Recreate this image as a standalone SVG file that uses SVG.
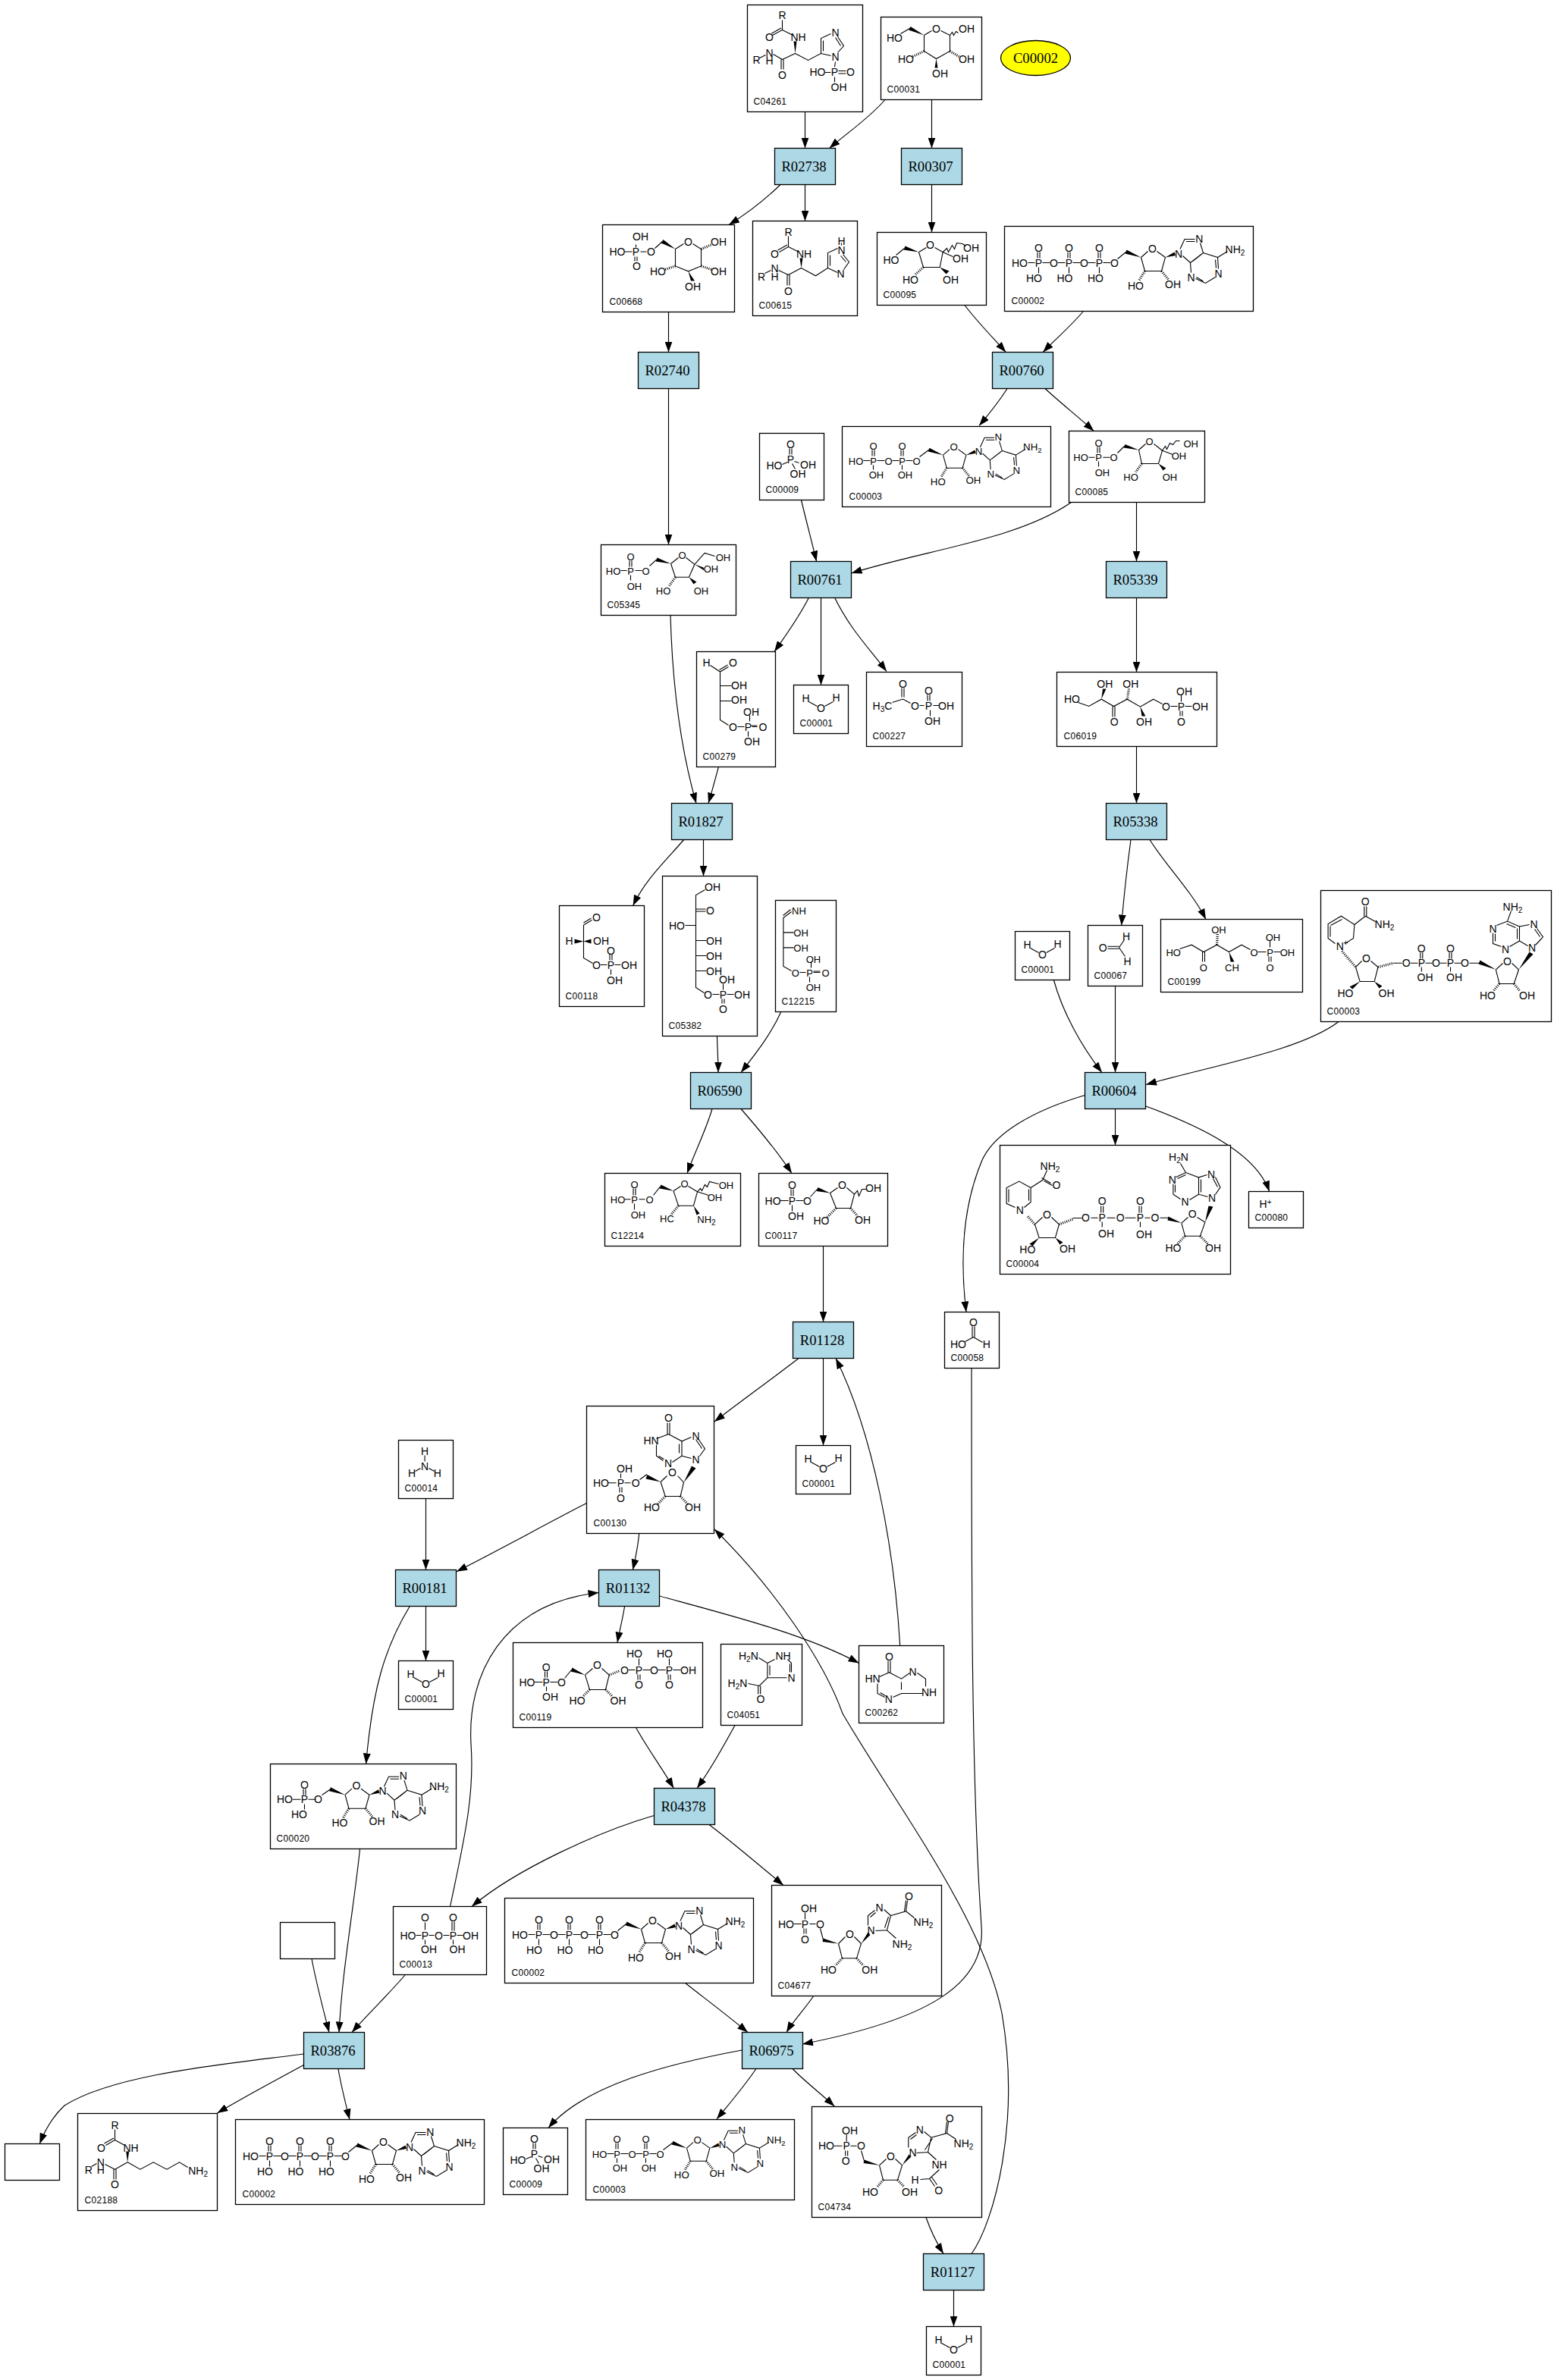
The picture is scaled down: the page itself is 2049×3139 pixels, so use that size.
<svg xmlns="http://www.w3.org/2000/svg" xmlns:xlink="http://www.w3.org/1999/xlink" width="2049" height="3139" viewBox="0 0 2049 3139">
<style>
text{font:14px "Liberation Sans",Arial,sans-serif;text-anchor:middle;fill:#000}
.s{font-size:10px}
.i{font-size:12px;text-anchor:start;letter-spacing:.3px}
.t{font:18.7px "Liberation Serif","Times New Roman",serif}
.n{fill:#fff;stroke:#000;stroke-width:1.3}
.r{fill:#add8e6;stroke:#000;stroke-width:1.3}
.b{fill:none;stroke:#000;stroke-width:1.1}
.h{fill:none;stroke:#000;stroke-width:3.2;stroke-dasharray:1 1.6}
.e{fill:none;stroke:#000;stroke-width:1.15;marker-end:url(#arr)}
.m13 text{font-size:13px}
.m13 .i{font-size:12px}
</style>
<defs>
<marker id="arr" markerUnits="userSpaceOnUse" markerWidth="14" markerHeight="10" viewBox="0 0 14 10" refX="14" refY="5" orient="auto"><path d="M0 0L14 5L0 10Z" fill="#000"/></marker>
<g id="ado">
<path class="b" d="M20 7L29 -1M41 -1L52 7L47 25H25L20 7M71.5 -4L77.5 -17H91M79.5 -14H91M98 -12L102 1L85 14L75 5M99 3.5L88 12M85 14L86 27M102 1L121 7L122 22M118 10L119 21M118 33L105 41L92 35M102 38.5L93 33M121 7L134 -1"/>
<polygon points="20,7 1,-3 -1,2"/><polygon points="52,7 64,0 65.5,4.5"/>
<path class="h" d="M25 25L17 38M47 25L56 36"/>
<text x="35" y="0">O</text><text x="13" y="49">HO</text><text x="62" y="47">OH</text><text x="69.5" y="7">N</text><text x="96.7" y="-13">N</text><text x="86" y="38">N</text><text x="122" y="33">N</text><text x="144" y="1">NH<tspan class="s" dy="3">2</tspan></text>
</g>
<g id="mATP">
<path class="b" d="M31 48H40M50 48H60M70 48H80M90 48H100M110 48H120M130 48H140M43.5 34V42M46.5 34V42M83.5 34V42M86.5 34V42M123.5 34V42M126.5 34V42M45 54V62M85 54V62M125 54V62M149 43L160 34"/>
<text x="20" y="53">HO</text><text x="45" y="53">P</text><text x="45" y="33">O</text><text x="39" y="73">HO</text><text x="65" y="53">O</text><text x="85" y="53">P</text><text x="85" y="33">O</text><text x="79.5" y="73">HO</text><text x="105" y="53">O</text><text x="125" y="53">P</text><text x="125" y="33">O</text><text x="120" y="73">HO</text><text x="145" y="53">O</text>
<use xlink:href="#ado" href="#ado" transform="translate(160 34)"/>
</g>
<g id="mADP" class="m13">
<path class="b" d="M28 45H37M46 45H56M66 45H75M84 45H93M39.5 31V39M42.5 31V39M77.5 31V39M80.5 31V39M41 51V57M79 51V57M102 40L114 31"/>
<text x="18" y="50">HO</text><text x="41" y="50">P</text><text x="41" y="30">O</text><text x="45" y="68">OH</text><text x="61" y="50">O</text><text x="79" y="50">P</text><text x="79" y="30">O</text><text x="83" y="68">OH</text><text x="98" y="50">O</text>
<use xlink:href="#ado" href="#ado" transform="translate(114 31) scale(.95)"/>
</g>
<g id="mPi">
<path class="b" d="M39.5 20V28M42.5 20V28M37 38L30 41M46 37L52 39M43 40L47 47"/>
<text x="41" y="19.5">O</text><text x="41" y="39">P</text><text x="19.5" y="47">HO</text><text x="64" y="46">OH</text><text x="50.5" y="58.7">OH</text>
</g>
<g id="mW">
<path class="b" d="M20 22L31 28M41 28L52 22"/>
<text x="16" y="22">H</text><text x="56" y="21">H</text><text x="36" y="35">O</text>
</g>
</defs>
<rect width="2049" height="3139" fill="#fff"/>
<g id="diagram" transform="translate(1 0)">
<g id="connectors">
<path class="e" d="M1060.5 147.5V195.5"/>
<path class="e" d="M1166 131.5C1145 156 1115 176 1092.6 195.5"/>
<path class="e" d="M1227.5 131.5V195.5"/>
<path class="e" d="M1028 243.5C1006 265 985 281 960 296.5"/>
<path class="e" d="M1060.5 243.5V291.5"/>
<path class="e" d="M1227.5 243.5V306.5"/>
<path class="e" d="M1271 402.5C1288 425 1308 445 1325.3 464.5"/>
<path class="e" d="M1427.5 410.5C1410 431 1392 446 1374.2 464.5"/>
<path class="e" d="M880.5 411.5V464.5"/>
<path class="e" d="M880.5 512.5V718.5"/>
<path class="e" d="M1327 512.5C1316 530 1303 546 1290 561.5"/>
<path class="e" d="M1377 512.5C1398 532 1420 549 1441.3 568.5"/>
<path class="e" d="M1055.5 659.5C1062 687 1069 713 1075.6 740.5"/>
<path class="e" d="M1411.5 662.5C1340 712 1220 725 1121.6 756"/>
<path class="e" d="M1497.5 662.5V740.5"/>
<path class="e" d="M1065.3 788.5C1052 815 1037 835 1020 859.5"/>
<path class="e" d="M1081.5 788.5V903.5"/>
<path class="e" d="M1099.7 788.5C1120 830 1145 855 1168 885.5"/>
<path class="e" d="M1497.5 788.5V886.5"/>
<path class="e" d="M1497.5 984.5V1059.5"/>
<path class="e" d="M883 811.5C886 920 900 1000 917 1059.5"/>
<path class="e" d="M946.4 1011.5C942 1028 938 1043 933 1059.5"/>
<path class="e" d="M900.7 1107.5C875 1137 850 1160 833.6 1194.5"/>
<path class="e" d="M926.5 1107.5V1155.5"/>
<path class="e" d="M1490 1107.5C1485 1145 1481 1180 1477.7 1220.5"/>
<path class="e" d="M1515 1107.5C1535 1140 1570 1175 1589 1212.5"/>
<path class="e" d="M1388.4 1292.5C1400 1335 1425 1380 1452 1414.5"/>
<path class="e" d="M1469.5 1300.5V1414.5"/>
<path class="e" d="M1764 1347.5C1715 1385 1600 1405 1510 1430.5"/>
<path class="e" d="M1429.5 1444.5C1360 1465 1310 1495 1294 1530C1275 1575 1262 1640 1273 1730.5"/>
<path class="e" d="M1469.5 1462.5V1510.5"/>
<path class="e" d="M1510 1459C1580 1485 1655 1520 1672.7 1571.5"/>
<path class="e" d="M944.5 1367C945 1385 946 1400 946 1414.5"/>
<path class="e" d="M1028.6 1335C1015 1365 995 1390 976 1414.5"/>
<path class="e" d="M938 1462.5C930 1490 915 1520 905 1547.5"/>
<path class="e" d="M976 1462.5C1000 1490 1025 1520 1043 1547.5"/>
<path class="e" d="M1084.5 1643.5V1743.5"/>
<path class="e" d="M1052 1791.5C1015 1820 980 1845 941 1875"/>
<path class="e" d="M1084.5 1791.5V1906.5"/>
<path class="e" d="M1185.7 2170.5C1178 2040 1150 1890 1101 1791.5"/>
<path class="e" d="M560.5 1976.5V2070.5"/>
<path class="e" d="M772.5 1982.5C715 2012 660 2043 601 2072.7"/>
<path class="e" d="M841.7 2022.5C840 2040 837 2055 833.3 2070.5"/>
<path class="e" d="M560.5 2118.5V2190.5"/>
<path class="e" d="M539.3 2118.5C505 2175 490 2230 481.6 2326.5"/>
<path class="e" d="M822.6 2118.5C820 2135 816 2150 813 2166.5"/>
<path class="e" d="M868.5 2105C960 2130 1060 2155 1131.5 2193.5"/>
<path class="e" d="M837.5 2278.5C852 2305 872 2332 887.3 2358.5"/>
<path class="e" d="M968 2275.5C952 2305 935 2335 918 2358.5"/>
<path class="e" d="M861.5 2394.5C790 2415 680 2465 621 2514.5"/>
<path class="e" d="M934 2406.5C965 2430 1000 2460 1032 2486.5"/>
<path class="e" d="M592.6 2514.5C610 2430 625 2370 620 2300C615 2210 660 2115 788.5 2100.5"/>
<path class="e" d="M473.6 2438.5C465 2520 450 2600 446 2680.5"/>
<path class="e" d="M410 2583.5C416 2615 425 2650 433 2680.5"/>
<path class="e" d="M533.3 2604.5C510 2632 485 2655 463 2680.5"/>
<path class="e" d="M902.6 2615.5C930 2637 958 2658 985 2680.5"/>
<path class="e" d="M1071.7 2632.5C1060 2650 1045 2665 1036 2680.5"/>
<path class="e" d="M1280 1804.5C1280 2100 1280 2350 1293 2540C1300 2620 1215 2665 1057 2696"/>
<path class="e" d="M399.5 2709C300 2722 150 2735 84 2777C70 2790 60 2805 51.3 2827.5"/>
<path class="e" d="M399.5 2723.5C360 2745 322 2765 285.4 2787"/>
<path class="e" d="M444.9 2728.5C449 2752 454 2772 460 2795.5"/>
<path class="e" d="M977 2704C880 2722 770 2750 722 2806.5"/>
<path class="e" d="M996 2728.5C980 2752 962 2773 944 2795"/>
<path class="e" d="M1044 2728.5C1060 2745 1080 2760 1099.3 2778"/>
<path class="e" d="M1220 2924.5C1226 2942 1234 2958 1243 2972.5"/>
<path class="e" d="M1256.5 3020.5V3068.5"/>
<path class="e" d="M1280 2972.5C1310 2930 1345 2800 1320 2655C1295 2530 1180 2380 1110 2260C1085 2190 1020 2095 941 2017"/>
</g>

<g id="C04261" transform="translate(984.5 6.5)"><rect class="n" width="152" height="141"/>
<path class="b" d="M46 20V33L33 40M44.5 30.5L32 37.5M46 33L60 40M63 64L46 72M44.5 72V85M47.5 72V85M46 72L34 65M63 64L80 73L97 64V44L110 38M100 61V47M119 42L127 54L119 63M116 43L123 54M110 67L97 64M116 75L115 82M102 89H110M120 87H130M120 90.5H130M115 95V102M16 70L24 66"/>
<polygon points="63,64 61,48 65,48"/>
<text x="46" y="18.7">R</text><text x="29" y="47">O</text><text x="67" y="47.7">NH</text><text x="46" y="97">O</text><text x="29" y="68">N</text><text x="29" y="78">H</text><text x="12" y="77">R</text><text x="116" y="41.3">N</text><text x="116" y="73.7">N</text><text x="115" y="93.7">P</text><text x="92.4" y="93.7">HO</text><text x="136" y="93.7">O</text><text x="120.5" y="113.7">OH</text>
<text class="i" x="8" y="131">C04261</text></g>

<g id="C00031" transform="translate(1160.5 22.5)"><rect class="n" width="133" height="109"/>
<path class="b" d="M26 22L38 15M57 24L67 18M79 18L91 24V45L73 55L57 45V24M91 24L94 20L96 24L99 19L102 21"/>
<polygon points="57,24 39,12.5 36.5,17"/><polygon points="73,55 71,67 75,67"/>
<path class="h" d="M57 45L42 52M91 45L103 52"/>
<text x="18" y="32.7">HO</text><text x="73" y="20">O</text><text x="113" y="20">OH</text><text x="33" y="60">HO</text><text x="113" y="60">OH</text><text x="78" y="79.7">OH</text>
<text class="i" x="8" y="99">C00031</text></g>

<g id="C00002_cpd"><ellipse cx="1364.5" cy="76.5" rx="46" ry="23" fill="#ff0" stroke="#000" stroke-width="1.3"/><text class="t" x="1364.5" y="82.5">C00002</text></g>

<g id="R02738"><rect class="r" x="1020.5" y="195.5" width="80" height="48"/><text class="t" x="1059" y="225.5">R02738</text></g>
<g id="R00307"><rect class="r" x="1187.5" y="195.5" width="80" height="48"/><text class="t" x="1226" y="225.5">R00307</text></g>

<g id="C00668" transform="translate(793.5 296.5)"><rect class="n" width="174" height="115"/>
<path class="b" d="M29 35.5H39M44 26V30M42.5 42V48M45.5 42V48M50 35.5H58M69 31L79 22M96 32L107 25M119 25L130 32V54.4L113 61.3L96 54.4V32"/>
<polygon points="96,32 80,19.5 77,24"/><polygon points="113,61.3 116.5,74 121.5,74"/>
<path class="h" d="M130 32L144 26M96 54.4L82 59M130 54.4L144 59"/>
<text x="50" y="20">OH</text><text x="19.5" y="40.5">HO</text><text x="44" y="40.5">P</text><text x="45" y="59.4">O</text><text x="64" y="40.5">O</text><text x="113" y="27.4">O</text><text x="153" y="27.4">OH</text><text x="73" y="66.3">HO</text><text x="153" y="66.3">OH</text><text x="119" y="86">OH</text>
<text class="i" x="9" y="105">C00668</text></g>

<g id="C00615" transform="translate(991.5 291.5)"><rect class="n" width="138" height="125"/>
<path class="b" d="M47 20V34L35 41M45.5 31.5L33 38.5M47 34L61 41M64 62L47 71M45.5 71V85M48.5 71V85M47 71L34 65M64 62L83 72.3L99 62V42L112 36M102 59V45M119 44L127 54L120 64M116 46L123 54M112 68L99 62M117 29V32M16 69L24 65"/>
<polygon points="64,62 62,49 66,49"/>
<text x="47" y="19.5">R</text><text x="29" y="48.7">O</text><text x="67.5" y="48.7">NH</text><text x="47" y="97">O</text><text x="29" y="67.7">N</text><text x="29" y="78">H</text><text x="11.5" y="78">R</text><text x="117" y="43">N</text><text x="117" y="31.5">H</text><text x="116" y="74.5">N</text>
<text class="i" x="8" y="115">C00615</text></g>

<g id="C00095" transform="translate(1155.5 306.5)"><rect class="n" width="144" height="96"/>
<path class="b" d="M25 30L35.6 21.3M55 26L65 20M76 20L86.7 26L82.7 46H61L55 26M86.7 26L92 21L94 26L99 17L102 22L105 14L112.5 15L117 18M86.7 26L100 32"/>
<polygon points="55,26 37,18 35,23"/><polygon points="82.7,46 91,55 95,51"/>
<path class="h" d="M61 46L50 56"/>
<text x="18.4" y="41.8">HO</text><text x="70" y="21">O</text><text x="124" y="25">OH</text><text x="110" y="39">OH</text><text x="44" y="67">HO</text><text x="97" y="67">OH</text>
<text class="i" x="8" y="86">C00095</text></g>

<g id="C00002_a" transform="translate(1323.5 298.5)"><rect class="n" width="328" height="112"/><use xlink:href="#mATP" href="#mATP"/><text class="i" x="9" y="102">C00002</text></g>
<g id="R02740"><rect class="r" x="840.5" y="464.5" width="80" height="48"/><text class="t" x="879" y="494.5">R02740</text></g>
<g id="R00760"><rect class="r" x="1307.5" y="464.5" width="80" height="48"/><text class="t" x="1346" y="494.5">R00760</text></g>
<g id="C00003_a" transform="translate(1109.5 562.5)"><rect class="n" width="275" height="106"/><use xlink:href="#mADP" href="#mADP"/><text class="i" x="9" y="96">C00003</text></g>

<g id="C00085" class="m13" transform="translate(1408.5 568.5)"><rect class="n" width="179" height="94"/>
<path class="b" d="M26 34.8H34M37.5 21V29M40.5 21V29M39 40V47M45 34.8H54M64 29L73 20M92 25L101 17M112 17L123 25.8L118 43H96L92 25M123 25.8L127 20L129 24L133 16L137 18L141 13L146 13M123 25.8L137 31"/>
<polygon points="92,25 74,17.5 72,22"/><polygon points="118,43 124,52 128,49"/>
<path class="h" d="M96 43L88 54"/>
<text x="39" y="20">O</text><text x="15.5" y="39.8">HO</text><text x="39" y="39.8">P</text><text x="44" y="59.4">OH</text><text x="59" y="39.8">O</text><text x="106" y="18">O</text><text x="160.7" y="21.5">OH</text><text x="145" y="37.7">OH</text><text x="81.5" y="65">HO</text><text x="133" y="65">OH</text>
<text class="i" x="8" y="84">C00085</text></g>

<g id="C00009_a" transform="translate(1000.5 571.5)"><rect class="n" width="85" height="88"/><use xlink:href="#mPi" href="#mPi"/><text class="i" x="8" y="78">C00009</text></g>

<g id="C05345" class="m13" transform="translate(791.5 718.5)"><rect class="n" width="178" height="93"/>
<path class="b" d="M26 34H34M37.5 21V29M40.5 21V29M39 40V47M45 34H54M64 28L73 19.6M92 25L102 17M112 17L123.4 25.8L116 42.7H98L92 25M123.4 25.8L136.6 11L150 15"/>
<polygon points="92,25 74,17 72,22"/><polygon points="116,42.7 122,52 126,49"/><polygon points="123.4,25.8 135,30 136,34"/>
<path class="h" d="M98 42.7L90 54"/>
<text x="39" y="20">O</text><text x="16" y="39">HO</text><text x="39" y="39">P</text><text x="44" y="59">OH</text><text x="59" y="39">O</text><text x="107" y="18.4">O</text><text x="161" y="21">OH</text><text x="145" y="36.7">OH</text><text x="82" y="65">HO</text><text x="132" y="65">OH</text>
<text class="i" x="8" y="83">C05345</text></g>

<g id="R00761"><rect class="r" x="1041.5" y="740.5" width="80" height="48"/><text class="t" x="1080" y="770.5">R00761</text></g>
<g id="R05339"><rect class="r" x="1457.5" y="740.5" width="80" height="48"/><text class="t" x="1496" y="770.5">R05339</text></g>

<g id="C00279" transform="translate(917.5 859.5)"><rect class="n" width="104" height="152"/>
<path class="b" d="M18 18L31 26.5L42 20M30 24L41 17.5M31 26.5V90L42 97M31 45H46M31 65H46M54 99H63M73 99H80M70 84V92M68 105V112M72 97.5H80"/>
<text x="13" y="19.5">H</text><text x="48" y="19.5">O</text><text x="56" y="49">OH</text><text x="56" y="68.5">OH</text><text x="72" y="84">OH</text><text x="48" y="104">O</text><text x="68" y="104">P</text><text x="87.5" y="104">O</text><text x="73" y="123">OH</text>
<text class="i" x="8" y="142">C00279</text></g>

<g id="C00001_a" transform="translate(1045.5 903.5)"><rect class="n" width="72" height="64"/><use xlink:href="#mW" href="#mW"/><text class="i" x="8" y="54">C00001</text></g>

<g id="C00227" transform="translate(1141.5 886.5)"><rect class="n" width="126" height="98"/>
<path class="b" d="M34 40L48 35.5L58 41M46.5 21V33M49.5 21V33M70 44H76M80.5 30V38M83.5 30V38M88 44H96M84 50V58"/>
<text x="21" y="49">H<tspan class="s" dy="3">3</tspan><tspan dy="-3">C</tspan></text><text x="48" y="20">O</text><text x="64" y="49">O</text><text x="82" y="49">P</text><text x="82" y="29">O</text><text x="105" y="49">OH</text><text x="87" y="69.5">OH</text>
<text class="i" x="8" y="88">C00227</text></g>

<g id="C06019" transform="translate(1392.5 886.5)"><rect class="n" width="211" height="98"/>
<path class="b" d="M28 40L42.3 45L58.7 35.7L75 45L92.7 35.7L110 45.7L127.3 35.7L139 42M73.5 45V59M76.5 45V59M150 45H159M169 45H178M164 30V39M162.5 51V58M165.5 51V58"/>
<polygon points="58.7,35.7 60.5,22 65,22"/><polygon points="110,45.7 112,58 117,58"/>
<path class="h" d="M92.7 35.7L95 22"/>
<text x="20" y="40.7">HO</text><text x="63.3" y="20">OH</text><text x="75.7" y="70">O</text><text x="97.3" y="20">OH</text><text x="115" y="70">OH</text><text x="144" y="50">O</text><text x="164" y="50">P</text><text x="168" y="30">OH</text><text x="189" y="50">OH</text><text x="164" y="70">O</text>
<text class="i" x="9" y="88">C06019</text></g>

<g id="R01827"><rect class="r" x="884.5" y="1059.5" width="80" height="48"/><text class="t" x="923" y="1089.5">R01827</text></g>
<g id="R05338"><rect class="r" x="1457.5" y="1059.5" width="80" height="48"/><text class="t" x="1496" y="1089.5">R05338</text></g>

<g id="C00118" transform="translate(736.5 1194.5)"><rect class="n" width="112" height="133"/>
<path class="b" d="M32 25.5L43 19M32 22.5L42 16.5M32 25.5V69L44 76M54 78H63M73 78H81M66.5 64V72M69.5 64V72M68 84V91"/>
<polygon points="32,47 20,44 20,50"/><polygon points="32,47 42,44 42,50"/>
<text x="49" y="20">O</text><text x="13" y="51">H</text><text x="55" y="51">OH</text><text x="49" y="83">O</text><text x="68" y="83">P</text><text x="68" y="64">O</text><text x="92" y="83">OH</text><text x="73" y="103">OH</text>
<text class="i" x="8" y="123">C00118</text></g>

<g id="C05382" transform="translate(872.5 1155.5)"><rect class="n" width="125" height="211"/>
<path class="b" d="M56 18L44 25V147L55 154M44 43.5H57M44 46.5H57M30 65H44M44 85H58M44 105H58M44 125H58M66 156H75M85 156H94M80 142V150M78.5 162V168M81.5 162V168"/>
<text x="66" y="19.5">OH</text><text x="63" y="50">O</text><text x="19" y="70">HO</text><text x="68" y="90">OH</text><text x="68" y="110">OH</text><text x="68" y="130">OH</text><text x="85" y="141">OH</text><text x="60" y="161">O</text><text x="80" y="161">P</text><text x="105" y="161">OH</text><text x="80" y="180.5">O</text>
<text class="i" x="8" y="201">C05382</text></g>

<g id="C12215" class="m13" transform="translate(1021.5 1187.5)"><rect class="n" width="80" height="147"/>
<path class="b" d="M21 15L10.4 23V87L21 93M20 12L10 20M10.4 42.4H24M10.4 62.4H24M32 95H40M50 95H59M47 81V89M45 101V108M50 93.5H59"/>
<text x="31" y="18.4">NH</text><text x="33.6" y="47.4">OH</text><text x="33.6" y="67.4">OH</text><text x="50" y="82">OH</text><text x="26.4" y="100">O</text><text x="45" y="100">P</text><text x="66" y="100">O</text><text x="50" y="119">OH</text>
<text class="i" x="8" y="137">C12215</text></g>

<g id="C00001_b" transform="translate(1337.5 1228.5)"><rect class="n" width="72" height="64"/><use xlink:href="#mW" href="#mW"/><text class="i" x="8" y="54">C00001</text></g>

<g id="C00067" transform="translate(1433.5 1220.5)"><rect class="n" width="72" height="80"/>
<path class="b" d="M26 27.8H41M26 30.8H41M41 29.3L48 19M41 29.3L49 41"/>
<text x="50.6" y="19.8">H</text><text x="19.6" y="34.3">O</text><text x="52" y="52.2">H</text>
<text class="i" x="8" y="70">C00067</text></g>

<g id="C00199" class="m13" transform="translate(1529.5 1212.5)"><rect class="n" width="187" height="96"/>
<path class="b" d="M25 39L40.6 33.7L56.4 43L74 33.7L90 43L106.5 33.7L118 40M55 43V56M58 43V56M128 43H139M149 43H158M144 28V37M142.5 49V56M145.5 49V56"/>
<polygon points="90,43 92,56 97,56"/>
<path class="h" d="M74 33.7L75 19"/>
<text x="16.7" y="48">HO</text><text x="56.4" y="68">O</text><text x="76.4" y="18">OH</text><text x="94" y="68">CH</text><text x="123" y="48">O</text><text x="144" y="48">P</text><text x="148" y="28.4">OH</text><text x="167" y="48">OH</text><text x="144" y="68">O</text>
<text class="i" x="9" y="86">C00199</text></g>

<g id="C00003_b" transform="translate(1740.5 1174.5)"><rect class="n" width="304" height="173"/>
<path class="b" d="M57.3 21V33.7M60.3 21V33.7M58.8 33.7L44.4 45M58.8 33.7L72 41M44.4 45L26.8 33.7L9.6 44V63L19 70M44.4 45L43 63L32 70M28 38L13 46M12.5 47V61M46 101L54 93M66 93L75.5 101L70.7 120H51.6L46 101M95 95.7H107M118 95.7H128M138 95.7H147M157 95.7H166M176 95.7H185M131.3 82V90M134.3 82V90M169.5 82V90M172.5 82V90M132.8 101V107M171 101V107M196 95.7H210M230.8 104.3L240 96M252 96L261 104.3L254.7 123H235.5L230.8 104.3M273 73L262 66.5V47.5L275 45M259 64V50M285 50L293 61.3L283 72M282 51L289 61M262 66.5L249 74M238 74L227 70V56M230 67V57M232 46L246 40.6L262 47.5M245 44L257 49M246 40.6L251 27"/>
<polygon points="230.8,104.3 210,92 208,97"/><polygon points="261,104.3 275,81 280,84"/><polygon points="70.7,120 77,129 81,126"/><polygon points="51.6,120 42,130 38,127"/>
<path class="h" d="M28 80L46 101M75.5 101L94.6 96M235.5 123L228 132M254.7 123L262 132"/>
<text x="58.8" y="19.8">O</text><text x="84" y="49.8">NH<tspan class="s" dy="3">2</tspan></text><text x="25.3" y="78.3">N</text><text x="33" y="72" class="s">+</text><text x="60" y="94">O</text><text x="32.5" y="140.3">HO</text><text x="86.5" y="140.3">OH</text><text x="112.8" y="100.7">O</text><text x="132.8" y="100.7">P</text><text x="132.8" y="81.8">O</text><text x="137.6" y="119.7">OH</text><text x="152" y="100.7">O</text><text x="171" y="100.7">P</text><text x="171" y="81.8">O</text><text x="176" y="119.7">OH</text><text x="190" y="100.7">O</text><text x="246" y="98">O</text><text x="220" y="143">HO</text><text x="272" y="143">OH</text><text x="278.5" y="80.8">N</text><text x="281" y="49">N</text><text x="243.6" y="82.8">N</text><text x="227" y="55">N</text><text x="253" y="26">NH<tspan class="s" dy="3">2</tspan></text>
<text class="i" x="8" y="163">C00003</text></g>

<g id="R06590"><rect class="r" x="909.5" y="1414.5" width="80" height="48"/><text class="t" x="948" y="1444.5">R06590</text></g>
<g id="R00604"><rect class="r" x="1429.5" y="1414.5" width="80" height="48"/><text class="t" x="1468" y="1444.5">R00604</text></g>

<g id="C00004" transform="translate(1317.5 1510.5)"><rect class="n" width="304" height="170"/>
<path class="b" d="M40.6 56L56.4 45.8L62 33M55 43L67 50M58 47L69 53M40.6 56L25.3 47.5L8.6 56V76.8L20 82M11.5 58V75M40.6 56V75L32 82M38 58V73M46 104.3L56 95M68 95L77.9 104.3L73 122H51.6L46 104.3M96 96H108M120 95.7H129M141 95.7H152M165 95.7H179M191 95.7H198M133.2 80V89M136.2 80V89M183.5 80V89M186.5 80V89M134.7 101V108M185 101V108M211 95.7H223.6M239.4 102.6L248 95M260 95L270.4 101.6L264 119.8H244L239.4 102.6M274 68L262 64.7V42.4L245 36L232 42M265 62V45M262 42.4L273 39M245 39L234 44M245 36L238 24M228.4 51V64.7L238 71M231 52V62M250 72L262 64.7M284 42L290.5 55.4L284 65M281 44L287 55"/>
<polygon points="239.4,102.6 222,94 221,99"/><polygon points="270.4,101.6 275,80 281,81"/><polygon points="73,122 79,131 83,128"/><polygon points="51.6,122 43,133 39,130"/>
<path class="h" d="M46 104.3L36 93M77.9 104.3L96 97.5M244 119.8L234 130M264 119.8L274 130"/>
<text x="66" y="32.5">NH<tspan class="s" dy="3">2</tspan></text><text x="74.5" y="57.7">O</text><text x="26.3" y="90.4">N</text><text x="62" y="96.3">O</text><text x="36.3" y="142">HO</text><text x="89" y="141">OH</text><text x="113" y="100.7">O</text><text x="134.7" y="100.7">P</text><text x="134.7" y="78.3">O</text><text x="140" y="121.4">OH</text><text x="158.6" y="100.7">O</text><text x="185" y="100.7">P</text><text x="185" y="78.3">O</text><text x="190" y="122">OH</text><text x="204.5" y="100.7">O</text><text x="253.7" y="95.6">O</text><text x="228.4" y="140.3">HO</text><text x="281" y="140.3">OH</text><text x="279.5" y="74.2">N</text><text x="278.5" y="43.2">N</text><text x="244" y="79">N</text><text x="227.4" y="50">N</text><text x="235.5" y="20.8">H<tspan class="s" dy="3">2</tspan><tspan dy="-3">N</tspan></text>
<text class="i" x="8" y="160">C00004</text></g>

<g id="C00080" transform="translate(1645.5 1571.5)"><rect class="n" width="72" height="48"/><text x="22" y="21">H<tspan class="s" dy="-4">+</tspan></text><text class="i" x="8" y="38">C00080</text></g>

<g id="C12214" class="m13" transform="translate(796.5 1547.5)"><rect class="n" width="179" height="96"/>
<path class="b" d="M26 34.3H34M37.5 20V29M40.5 20V29M39 40V48M45 34.3H53M64 29L73 17.7M90.5 23.3L100 17M110 17L122 24.3L117 42.7H97L90.5 23.3M122 24.3L126 20L128 23L132 15L135 18L138 11L150 14M122 24.3L137 29"/>
<polygon points="90.5,23.3 74,15 72,20"/><polygon points="117,42.7 125,53 121,55"/>
<path class="h" d="M97 42.7L87 55"/>
<text x="39" y="19.3">O</text><text x="17" y="39.3">HO</text><text x="39" y="39.3">P</text><text x="44" y="59.3">OH</text><text x="59" y="39.3">O</text><text x="105" y="18.3">O</text><text x="160" y="20">OH</text><text x="145" y="36.7">OH</text><text x="82" y="64.3">HC</text><text x="134" y="65">NH<tspan class="s" dy="3">2</tspan></text>
<text class="i" x="8" y="86">C12214</text></g>

<g id="C00117" transform="translate(999.5 1547.5)"><rect class="n" width="170" height="96"/>
<path class="b" d="M28 36H39M42.5 21V30M45.5 21V30M44 42V50M49 36H59M68 31L77 21M94 26L104 19M116 19L126 27.7L121 46H102L94 26M126 27.7L130 23L132 30L136 21L142 21"/>
<polygon points="94,26 78,18.5 76,23.5"/>
<path class="h" d="M102 46L90 58M121 46L130 56"/>
<text x="44" y="20">O</text><text x="18.6" y="41">HO</text><text x="44" y="41">P</text><text x="49" y="61.7">OH</text><text x="64" y="41">O</text><text x="110" y="20">O</text><text x="151" y="24.3">OH</text><text x="82.4" y="67">HO</text><text x="137" y="66">OH</text>
<text class="i" x="8" y="86">C00117</text></g>

<g id="C00058" transform="translate(1244.5 1730.5)"><rect class="n" width="72" height="74"/>
<path class="b" d="M36.5 19V33M39.5 19V33M38 33L27 39M38 33L50 40"/>
<text x="38" y="18">O</text><text x="18" y="47.3">HO</text><text x="55.4" y="47.3">H</text>
<text class="i" x="8" y="64">C00058</text></g>

<g id="R01128"><rect class="r" x="1044.5" y="1743.5" width="80" height="48"/><text class="t" x="1083" y="1773.5">R01128</text></g>

<g id="C00130" transform="translate(772.5 1854.5)"><rect class="n" width="168" height="168"/>
<path class="b" d="M106.5 22V37M109.5 22V37M108 37L92 43M108 37L125.5 46.3L138 41M92 51L92 65.7L101 72M95 66L102 70M113 74L125.5 65.7V46.3M122 62V50M125.5 65.7L138 69M147 43L156 56.3L149 66M144 44L152 56M97.6 100L106 92M120 92L128 100.7L123.6 119H103.7L97.6 100M28 101.3H39M50 101.3H58M45 89V95M43.5 107V114M46.5 107V114M70 97L79.6 90"/>
<polygon points="128,100.7 138.5,79 144,82"/><polygon points="97.6,100 80,90.5 78,96"/>
<path class="h" d="M103.7 119L94 129M123.6 119L133 129"/>
<text x="108" y="20.7">O</text><text x="85" y="50">HN</text><text x="107.5" y="80">N</text><text x="144" y="44">N</text><text x="144" y="75.7">N</text><text x="113" y="92.3">O</text><text x="86" y="138.3">HO</text><text x="140" y="138.3">OH</text><text x="64.7" y="106.3">O</text><text x="45" y="106.3">P</text><text x="19" y="106.3">HO</text><text x="50" y="87.3">OH</text><text x="45" y="126.3">O</text>
<text class="i" x="9" y="158">C00130</text></g>

<g id="C00014" transform="translate(524.5 1899.5)"><rect class="n" width="72" height="77"/>
<path class="b" d="M34.6 20V28M29 37L22 41M40 37L47 41"/>
<text x="34.6" y="19.7">H</text><text x="34.6" y="39">N</text><text x="17.5" y="48.3">H</text><text x="51.4" y="48.3">H</text>
<text class="i" x="8" y="67">C00014</text></g>

<g id="C00001_c" transform="translate(1048.5 1906.5)"><rect class="n" width="72" height="64"/><use xlink:href="#mW" href="#mW"/><text class="i" x="8" y="54">C00001</text></g>

<g id="R00181"><rect class="r" x="520.5" y="2070.5" width="80" height="48"/><text class="t" x="559" y="2100.5">R00181</text></g>
<g id="R01132"><rect class="r" x="788.5" y="2070.5" width="80" height="48"/><text class="t" x="827" y="2100.5">R01132</text></g>

<g id="C00119" transform="translate(675.5 2166.5)"><rect class="n" width="250" height="112"/>
<path class="b" d="M28 52H39M42 38V46M45 38V46M44 58V64M49 52H59M68 47L77 36M95 42.7L105 34M117 34L126.7 42.7L122 62H101L95 42.7M152 36H161M171 36H181M191 36H201M211 36H221M166 21V30M164.5 42V49M167.5 42V49M206 21V30M204.5 42V49M207.5 42V49"/>
<polygon points="95,42.7 78,33 76,38"/>
<path class="h" d="M126.7 42.7L141 37M101 62L92 71M122 62L131 71"/>
<text x="43.6" y="37">O</text><text x="18.4" y="57">HO</text><text x="43.6" y="57">P</text><text x="49" y="76.3">OH</text><text x="64" y="57">O</text><text x="111" y="34.7">O</text><text x="84.6" y="81.3">HO</text><text x="138.6" y="81.3">OH</text><text x="147" y="41">O</text><text x="166" y="41">P</text><text x="160" y="19.7">HO</text><text x="166" y="60.3">O</text><text x="186" y="41">O</text><text x="206" y="41">P</text><text x="200" y="19.7">HO</text><text x="231" y="41">OH</text><text x="206" y="60.3">O</text>
<text class="i" x="8" y="102">C00119</text></g>

<g id="C04051" transform="translate(949.5 2168.5)"><rect class="n" width="107" height="107"/>
<path class="b" d="M50 18L61.4 25V44.3H87M64.5 28V41M71 20L61.4 25M88 20L93 25V37M91 26V37M61.4 44.3L50.7 55L36 52M49.2 55V66M52.2 55V66"/>
<text x="36.4" y="20.7">H<tspan class="s" dy="3">2</tspan><tspan dy="-3">N</tspan></text><text x="82" y="20.7">NH</text><text x="93" y="49">N</text><text x="22" y="56.7">H<tspan class="s" dy="3">2</tspan><tspan dy="-3">N</tspan></text><text x="52.5" y="77.7">O</text>
<text class="i" x="8" y="97">C04051</text></g>

<g id="C00262" transform="translate(1131.5 2170.5)"><rect class="n" width="112" height="102"/>
<path class="b" d="M38.5 20V35.3M41.5 20V35.3M40 35.3L27 41M40 35.3L56 43.7L67 36M24.5 50L24.5 63L34 68M28 62L35 66M45 68L56 63H85M56 48V58M77 36L88 43.7V54"/>
<text x="40" y="19.7">O</text><text x="18" y="48">HN</text><text x="39.4" y="75.7">N</text><text x="71" y="39.7">N</text><text x="92.5" y="66.3">NH</text>
<text class="i" x="8" y="92">C00262</text></g>

<g id="C00001_d" transform="translate(524.5 2190.5)"><rect class="n" width="72" height="64"/><use xlink:href="#mW" href="#mW"/><text class="i" x="8" y="54">C00001</text></g>

<g id="C00020" transform="translate(355.5 2326.5)"><rect class="n" width="245" height="112"/>
<path class="b" d="M29 46.7H40M43.5 33V41M46.5 33V41M45 53V60M50 46.7H60M68 41L78.5 33.7"/>
<text x="19" y="51.7">HO</text><text x="45" y="51.7">P</text><text x="45" y="32">O</text><text x="38" y="71.7">HO</text><text x="63" y="51.7">O</text>
<use xlink:href="#ado" href="#ado" transform="translate(78.5 33.7)"/>
<text class="i" x="8" y="102">C00020</text></g>

<g id="R04378"><rect class="r" x="861.5" y="2358.5" width="80" height="48"/><text class="t" x="900" y="2388.5">R04378</text></g>

<g id="C04677" transform="translate(1016.5 2486.5)"><rect class="n" width="224" height="146"/>
<path class="b" d="M29 51H39M44 36V45M42.5 57V64M45.5 57V64M50 51H58M64 57L68 72M88 77L97 68M109 68L118 77L112 96.3H93L88 77M127 53V40L136 33M130 42L137 36M148 32L157 40L152 59.3L137 60M154 41.5L149 56M157 40L177 34.3L179 20M175 34.3L177 20M177 34.3L188 43M152 59.3L164 70"/>
<polygon points="88,77 68,70 67,74.5"/><polygon points="118,77 127,62 130,65.5"/>
<path class="h" d="M93 96.3L84 106M112 96.3L121 106"/>
<text x="49" y="35">OH</text><text x="19" y="56">HO</text><text x="44" y="56">P</text><text x="44" y="76">O</text><text x="64" y="56">O</text><text x="103" y="69.3">O</text><text x="75" y="116.3">HO</text><text x="129.3" y="116.3">OH</text><text x="131" y="64.3">N</text><text x="142" y="34">N</text><text x="181" y="19.3">O</text><text x="200" y="53.7">NH<tspan class="s" dy="3">2</tspan></text><text x="172" y="82">NH<tspan class="s" dy="3">2</tspan></text>
<text class="i" x="8" y="136">C04677</text></g>

<g id="C00002_b" transform="translate(664.5 2503.5)"><rect class="n" width="328" height="112"/><use xlink:href="#mATP" href="#mATP"/><text class="i" x="9" y="102">C00002</text></g>

<g id="C00013" transform="translate(517.5 2514.5)"><rect class="n" width="123" height="90"/>
<path class="b" d="M42 21V31M30 38H37M47 38H54M66 38H74M84 38H92M42 44V50M77.5 20V32M80.5 20V32M79 44V50"/>
<text x="42" y="19.7">O</text><text x="19.5" y="43">HO</text><text x="42" y="43">P</text><text x="47" y="61.7">OH</text><text x="60" y="43">O</text><text x="79" y="43">P</text><text x="79" y="19.7">O</text><text x="102" y="43">OH</text><text x="84.6" y="61.7">OH</text>
<text class="i" x="8" y="80">C00013</text></g>

<g id="n_empty1"><rect class="n" x="368.5" y="2535.5" width="72" height="48"/></g>
<g id="R03876"><rect class="r" x="399.5" y="2680.5" width="80" height="48"/><text class="t" x="438" y="2710.5">R03876</text></g>
<g id="R06975"><rect class="r" x="977.5" y="2680.5" width="80" height="48"/><text class="t" x="1016" y="2710.5">R06975</text></g>

<g id="C04734" transform="translate(1069.5 2778.5)"><rect class="n" width="224" height="146"/>
<path class="b" d="M29 51.7H40M45.7 37V46M44.2 58V65M47.2 58V65M51 51.7H59M65 58L69 71.7M89 77.3L98 69M110 69L119 77.3L113 96.7H94L89 77.3M127.3 54V40.7L137 34M130 43L138 37M148 33L157.3 40.7L153 60L138 61M159 42L149 57M157.3 40.7L178 35L180 20M176 35L178 20M178 35L190 43M153 60L164 70M168 83L155 95L143 96M155 95L162 105M158 93L165 103"/>
<polygon points="89,77.3 69,70 68,74.5"/><polygon points="119,77.3 128,63 131,66"/>
<path class="h" d="M94 96.7L86 106M113 96.7L122 106"/>
<text x="50" y="36.7">OH</text><text x="19" y="56.7">HO</text><text x="45.7" y="56.7">P</text><text x="44.7" y="76.7">O</text><text x="65" y="56.7">O</text><text x="104" y="70.7">O</text><text x="77" y="117.3">HO</text><text x="129" y="117.3">OH</text><text x="133" y="65">N</text><text x="142.3" y="35">N</text><text x="181.7" y="20">O</text><text x="200" y="53.3">NH<tspan class="s" dy="3">2</tspan></text><text x="168" y="81.7">NH</text><text x="136" y="101.7">H</text><text x="167.3" y="115">O</text>
<text class="i" x="8" y="136">C04734</text></g>

<g id="C02188" transform="translate(101.5 2787.5)"><rect class="n" width="184" height="128"/>
<path class="b" d="M49 21V35L37 42M47.5 32.5L35 39.5M49 35L62 42M65.7 64.3L49 73.7M47.5 73.7V87M50.5 73.7V87M49 73.7L36 67M65.7 64.3L82.4 73.7L99.7 64.3L117.4 73.7L134 64.3L145 71M18 70L25 66"/>
<polygon points="65.7,64.3 63.7,50 67.7,50"/>
<text x="49" y="20.3">R</text><text x="31" y="50">O</text><text x="70" y="50">NH</text><text x="49" y="98.7">O</text><text x="30.3" y="69.3">N</text><text x="30.3" y="79.3">H</text><text x="14.3" y="79.3">R</text><text x="158.6" y="80">NH<tspan class="s" dy="3">2</tspan></text>
<text class="i" x="9" y="118">C02188</text></g>

<g id="C00002_c" transform="translate(309.5 2795.5)"><rect class="n" width="328" height="112"/><use xlink:href="#mATP" href="#mATP"/><text class="i" x="9" y="102">C00002</text></g>
<g id="C00003_c" transform="translate(771.5 2795.5)"><rect class="n" width="275" height="106"/><use xlink:href="#mADP" href="#mADP"/><text class="i" x="9" y="96">C00003</text></g>
<g id="C00009_b" transform="translate(662.5 2806.5)"><rect class="n" width="85" height="88"/><use xlink:href="#mPi" href="#mPi"/><text class="i" x="8" y="78">C00009</text></g>
<g id="n_empty2"><rect class="n" x="5.5" y="2827.5" width="72" height="48"/></g>
<g id="R01127"><rect class="r" x="1216.5" y="2972.5" width="80" height="48"/><text class="t" x="1255" y="3002.5">R01127</text></g>
<g id="C00001_e" transform="translate(1220.5 3068.5)"><rect class="n" width="72" height="64"/><use xlink:href="#mW" href="#mW"/><text class="i" x="8" y="54">C00001</text></g>
</g>
</svg>
